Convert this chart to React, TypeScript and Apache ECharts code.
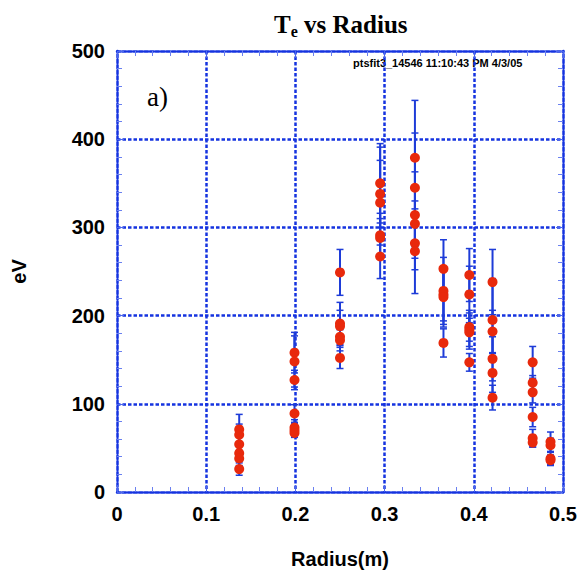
import React, { useEffect, useRef } from "react";
import * as echarts from "echarts";

// Radius (m) of each measurement
const radius = [
  0.137, 0.137, 0.137, 0.137, 0.137, 0.137,
  0.199, 0.199, 0.199, 0.199, 0.199, 0.199, 0.199,
  0.25, 0.25, 0.25, 0.25, 0.25, 0.25,
  0.295, 0.295, 0.295, 0.295, 0.295, 0.295,
  0.334, 0.334, 0.334, 0.334, 0.334, 0.334,
  0.366, 0.366, 0.366, 0.366, 0.366,
  0.395, 0.395, 0.395, 0.395, 0.395, 0.395,
  0.421, 0.421, 0.421, 0.421, 0.421, 0.421,
  0.466, 0.466, 0.466, 0.466, 0.466, 0.466,
  0.486, 0.486, 0.486, 0.486,
];
// Electron temperature (eV)
const te = [
  71, 65, 54, 44, 38, 26,
  158, 148, 127, 89, 73, 70, 67,
  249, 191, 188, 176, 172, 152,
  350, 338, 328, 291, 288, 267,
  379, 345, 314, 304, 282, 273,
  253, 228, 224, 221, 169,
  246, 224, 187, 184, 181, 147,
  238, 195, 182, 151, 135, 107,
  147, 124, 113, 85, 61, 56,
  57, 53, 38, 36,
];
// Symmetric error (eV)
const teErr = [
  17, 12, 10, 8, 8, 7,
  23, 29, 11, 10, 9, 8, 5,
  26, 24, 18, 10, 12, 12,
  45, 53, 48, 25, 22, 25,
  65, 62, 49, 26, 30, 48,
  33, 38, 30, 34, 16,
  30, 32, 16, 22, 16, 10,
  37, 47, 24, 25, 22, 14,
  18, 8, 12, 11, 10, 5,
  11, 8, 7, 6,
];
const xTicks = [0, 0.1, 0.2, 0.3, 0.4, 0.5];
const yTicks = [0, 100, 200, 300, 400, 500];

const BLUE = "#1533e0";
const ERR = "#1e3cd8";
const RED = "#e8290c";
const DOT: number[] = [3.5, 2];

export default function App() {
  const ref = useRef<HTMLDivElement>(null);
  useEffect(() => {
    if (!ref.current) return;
    const chart = echarts.init(ref.current, null, { renderer: "svg" });
    const axisLine = { show: true, onZero: false, lineStyle: { color: BLUE, width: 2.5, type: DOT } };
    const splitLine = {
      show: true, showMinLine: false, showMaxLine: false,
      lineStyle: { color: BLUE, width: 2.5, type: DOT },
    };
    const axisTick = { show: true, inside: true, length: 7, lineStyle: { color: "#4a66ee", width: 1 } };
    const minorTick = { show: true, splitNumber: 5, length: 5, lineStyle: { color: "#6a80f0", width: 1 } };
    const labelStyle = {
      fontFamily: "Liberation Sans",
      fontWeight: "bold" as const,
      fontSize: 20,
      color: "#000",
    };
    const xMin = xTicks[0], xMax = xTicks[xTicks.length - 1];
    const yMin = yTicks[0], yMax = yTicks[yTicks.length - 1];
    const xInt = xTicks[1] - xTicks[0];
    const yInt = yTicks[1] - yTicks[0];
    const errData = radius.map((r, i) => [r, te[i], teErr[i]]);
    const ptData = radius.map((r, i) => [r, te[i]]);

    chart.setOption({
      animation: false,
      backgroundColor: "#fff",
      title: {
        text: "{t|T}{s|e}{t| vs Radius}",
        left: 269,
        top: 4,
        textStyle: {
          rich: {
            t: { fontFamily: "Liberation Serif", fontWeight: "bold", fontSize: 25, lineHeight: 30, color: "#000" },
            s: { fontFamily: "Liberation Serif", fontWeight: "bold", fontSize: 16, lineHeight: 16, verticalAlign: "bottom", color: "#000" },
          },
        },
      },
      grid: { left: 117, right: 18, top: 51, bottom: 83 },
      xAxis: [
        {
          type: "value", min: xMin, max: xMax, interval: xInt, position: "bottom",
          axisLine, axisTick, minorTick, splitLine,
          axisLabel: { ...labelStyle, margin: 12, formatter: (v: number) => String(+v.toFixed(1)) },
          name: "Radius(m)", nameLocation: "middle", nameGap: 57,
          nameTextStyle: { ...labelStyle },
        },
        {
          type: "value", min: xMin, max: xMax, interval: xInt, position: "top",
          axisLine, axisTick, minorTick, splitLine: { show: false }, axisLabel: { show: false },
        },
      ],
      yAxis: [
        {
          type: "value", min: yMin, max: yMax, interval: yInt, position: "left",
          axisLine, axisTick, minorTick, splitLine,
          axisLabel: { ...labelStyle, margin: 12 },
          name: "eV", nameLocation: "middle", nameGap: 88, nameRotate: 90,
          nameTextStyle: { ...labelStyle },
        },
        {
          type: "value", min: yMin, max: yMax, interval: yInt, position: "right",
          axisLine, axisTick, minorTick, splitLine: { show: false }, axisLabel: { show: false },
        },
      ],
      graphic: [
        {
          type: "text", left: 147, top: 83,
          style: { text: "a)", fontFamily: "Liberation Serif", fontSize: 27, fill: "#000" },
        },
        {
          type: "text", left: 353, top: 57,
          style: { text: "ptsfit3_14546 11:10:43 PM 4/3/05", fontFamily: "Liberation Sans", fontWeight: "bold", fontSize: 11, fill: "#000" },
        },
      ],
      series: [
        {
          type: "custom",
          xAxisIndex: 0, yAxisIndex: 0,
          data: errData,
          encode: { x: 0, y: 1 },
          z: 3,
          renderItem: (params: any, api: any) => {
            const x = api.value(0), y = api.value(1), e = api.value(2);
            const top = api.coord([x, y + e]);
            const bot = api.coord([x, y - e]);
            const hw = 3.5;
            const st = { stroke: ERR, lineWidth: 2 };
            const st2 = { stroke: ERR, lineWidth: 1.5 };
            return {
              type: "group",
              children: [
                { type: "line", shape: { x1: top[0], y1: top[1], x2: bot[0], y2: bot[1] }, style: st },
                { type: "line", shape: { x1: top[0] - hw, y1: top[1], x2: top[0] + hw, y2: top[1] }, style: st2 },
                { type: "line", shape: { x1: bot[0] - hw, y1: bot[1], x2: bot[0] + hw, y2: bot[1] }, style: st2 },
              ],
            };
          },
        },
        {
          type: "scatter",
          xAxisIndex: 0, yAxisIndex: 0,
          data: ptData,
          symbol: "circle",
          symbolSize: 10,
          itemStyle: { color: RED, opacity: 1 },
          z: 5,
        },
      ],
    });
    return () => chart.dispose();
  }, []);
  return (
    <div
      ref={ref}
      style={{ position: "absolute", left: 0, top: 0, width: 581, height: 575, background: "#fff" }}
    />
  );
}
